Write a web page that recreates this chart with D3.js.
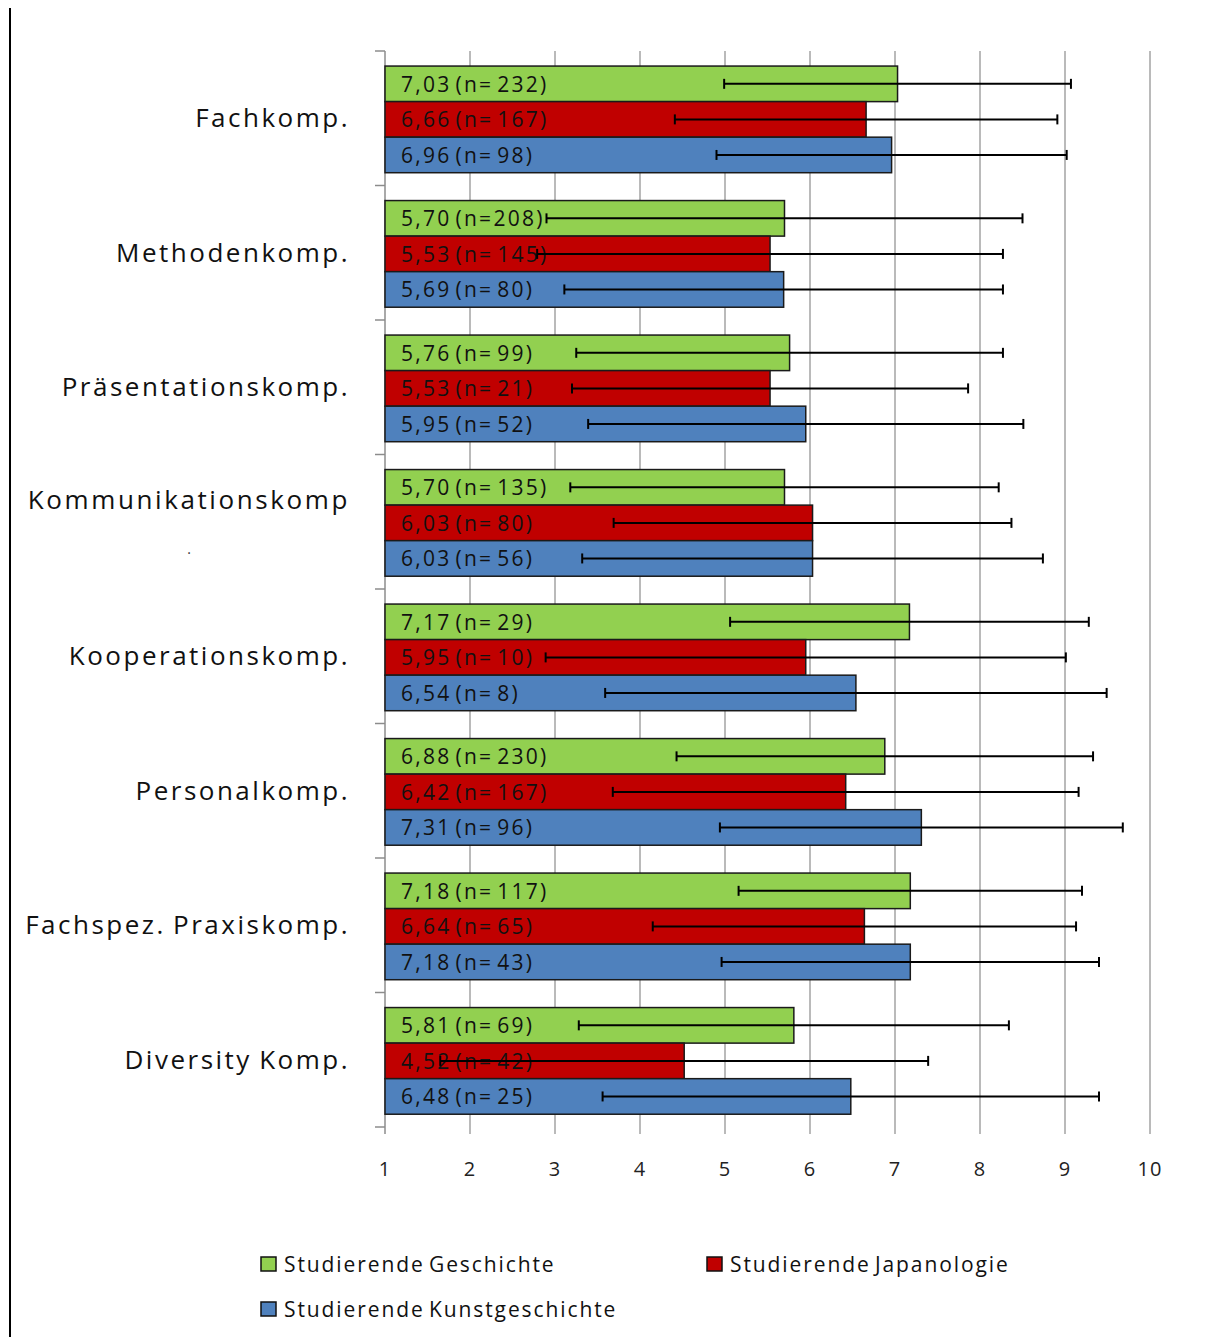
<!DOCTYPE html>
<html><head><meta charset="utf-8">
<script src="https://cdn.jsdelivr.net/npm/d3@7"></script>
<style>body{margin:0;background:#fff}svg{display:block}</style>
</head><body>
<script>
const categories = ["Fachkomp.","Methodenkomp.","Präsentationskomp.","Kommunikationskomp","Kooperationskomp.","Personalkomp.","Fachspez.  Praxiskomp.","Diversity Komp."];
const seriesNames = ["Studierende Geschichte","Studierende Japanologie","Studierende Kunstgeschichte"];
const seriesColors = ["#92d050","#c00000","#4f81bd"];
const meanGeschichte = [7.03,5.70,5.76,5.70,7.17,6.88,7.18,5.81];
const meanJapanologie = [6.66,5.53,5.53,6.03,5.95,6.42,6.64,4.52];
const meanKunst = [6.96,5.69,5.95,6.03,6.54,7.31,7.18,6.48];
const sdGeschichte = [2.04,2.80,2.51,2.52,2.11,2.45,2.02,2.53];
const sdJapanologie = [2.25,2.74,2.33,2.34,3.06,2.74,2.49,2.87];
const sdKunst = [2.06,2.58,2.56,2.71,2.95,2.37,2.22,2.92];
const nGeschichte = [232,208,99,135,29,230,117,69];
const nJapanologie = [167,145,21,80,10,167,65,42];
const nKunst = [98,80,52,56,8,96,43,25];
const labelsGeschichte = ["7,03 (n= 232)","5,70 (n=208)","5,76 (n= 99)","5,70 (n= 135)","7,17 (n= 29)","6,88 (n= 230)","7,18 (n= 117)","5,81 (n= 69)"];
const labelsJapanologie = ["6,66 (n= 167)","5,53 (n= 145)","5,53 (n= 21)","6,03 (n= 80)","5,95 (n= 10)","6,42 (n= 167)","6,64 (n= 65)","4,52 (n= 42)"];
const labelsKunst = ["6,96 (n= 98)","5,69 (n= 80)","5,95 (n= 52)","6,03 (n= 56)","6,54 (n= 8)","7,31 (n= 96)","7,18 (n= 43)","6,48 (n= 25)"];
const xTicks = [1,2,3,4,5,6,7,8,9,10];

const means=[meanGeschichte,meanJapanologie,meanKunst];
const sds=[sdGeschichte,sdJapanologie,sdKunst];
const labels=[labelsGeschichte,labelsJapanologie,labelsKunst];

const W=1214,H=1337;
const svg=d3.select("body").append("svg").attr("width",W).attr("height",H);
const font="'Open Sans', sans-serif";

// left frame line
svg.append("line").attr("x1",10).attr("x2",10).attr("y1",8).attr("y2",H).attr("stroke","#000").attr("stroke-width",2);

const x=d3.scaleLinear().domain([1,10]).range([385,1150]);
const y0=d3.scaleBand().domain(categories).range([51,1127]);
const bw=y0.bandwidth();
const y1=d3.scaleBand().domain(seriesNames).range([bw*0.112,bw*0.905]);

// grid lines
svg.append("g").selectAll("line").data(xTicks.slice(1)).join("line")
  .attr("x1",d=>x(d)).attr("x2",d=>x(d)).attr("y1",51).attr("y2",1134)
  .attr("stroke","#8c8c8c").attr("stroke-width",1.2);

// x axis tick labels
svg.append("g").selectAll("text").data(xTicks).join("text")
  .attr("x",d=>x(d)).attr("y",1176).attr("text-anchor","middle")
  .attr("font-family",font).attr("font-size",20).attr("letter-spacing",1).attr("fill","#222").text(d=>d);

// category axis
svg.append("line").attr("x1",x(1)).attr("x2",x(1)).attr("y1",51).attr("y2",1134).attr("stroke","#8c8c8c").attr("stroke-width",1.5);
const bounds=categories.map(c=>y0(c)).concat([1127]);
svg.append("g").selectAll("line").data(bounds).join("line")
  .attr("x1",375).attr("x2",x(1)).attr("y1",d=>d).attr("y2",d=>d)
  .attr("stroke","#8c8c8c").attr("stroke-width",1.5);

// category labels
const catG=svg.append("g");
categories.forEach((c,i)=>{
  const cy=y0(c)+bw/2;
  if(c==="Kommunikationskomp"){
    catG.append("text").attr("x",350).attr("y",cy-22+9).attr("text-anchor","end")
      .attr("font-family",font).attr("font-size",26).attr("letter-spacing",2.6).attr("fill","#111").text(c);
    catG.append("text").attr("x",189).attr("y",cy+23+9).attr("text-anchor","middle")
      .attr("font-family",font).attr("font-size",14).attr("fill","#333").text(".");
  } else {
    catG.append("text").attr("x",350).attr("y",cy+9).attr("text-anchor","end")
      .attr("font-family",font).attr("font-size",26).attr("letter-spacing",2.5).attr("word-spacing",-2).attr("fill","#111").text(c);
  }
});

// bars
seriesNames.forEach((s,si)=>{
  const g=svg.append("g");
  g.selectAll("rect").data(categories).join("rect")
    .attr("x",x(1)).attr("y",c=>y0(c)+y1(s))
    .attr("width",(c,i)=>x(means[si][i])-x(1)).attr("height",y1.bandwidth())
    .attr("fill",seriesColors[si]).attr("stroke","#1a1a1a").attr("stroke-width",1.5);
});
// labels
seriesNames.forEach((s,si)=>{
  svg.append("g").selectAll("text").data(categories).join("text")
    .attr("x",401).attr("y",c=>y0(c)+y1(s)+y1.bandwidth()/2+8)
    .attr("font-family",font).attr("font-size",21).attr("letter-spacing",2.3).attr("word-spacing",-4).attr("fill","#111")
    .text((c,i)=>labels[si][i]);
});
// error bars
seriesNames.forEach((s,si)=>{
  const g=svg.append("g").attr("stroke","#000").attr("stroke-width",2);
  categories.forEach((c,i)=>{
    const cy=y0(c)+y1(s)+y1.bandwidth()/2;
    const lo=x(means[si][i]-sds[si][i]), hi=x(means[si][i]+sds[si][i]);
    g.append("line").attr("x1",lo).attr("x2",hi).attr("y1",cy).attr("y2",cy);
    g.append("line").attr("x1",lo).attr("x2",lo).attr("y1",cy-5).attr("y2",cy+5);
    g.append("line").attr("x1",hi).attr("x2",hi).attr("y1",cy-5).attr("y2",cy+5);
  });
});

// legend
const legPos=[[261,1264],[707,1264],[261,1309]];
seriesNames.forEach((s,si)=>{
  const [lx,ly]=legPos[si];
  svg.append("rect").attr("x",lx).attr("y",ly-7).attr("width",15).attr("height",14)
    .attr("fill",seriesColors[si]).attr("stroke","#111").attr("stroke-width",1.5);
  svg.append("text").attr("x",lx+23).attr("y",ly+8).attr("font-family",font)
    .attr("font-size",21).attr("letter-spacing",1.9).attr("word-spacing",-3).attr("fill","#111").text(s);
});
</script>
</body></html>
